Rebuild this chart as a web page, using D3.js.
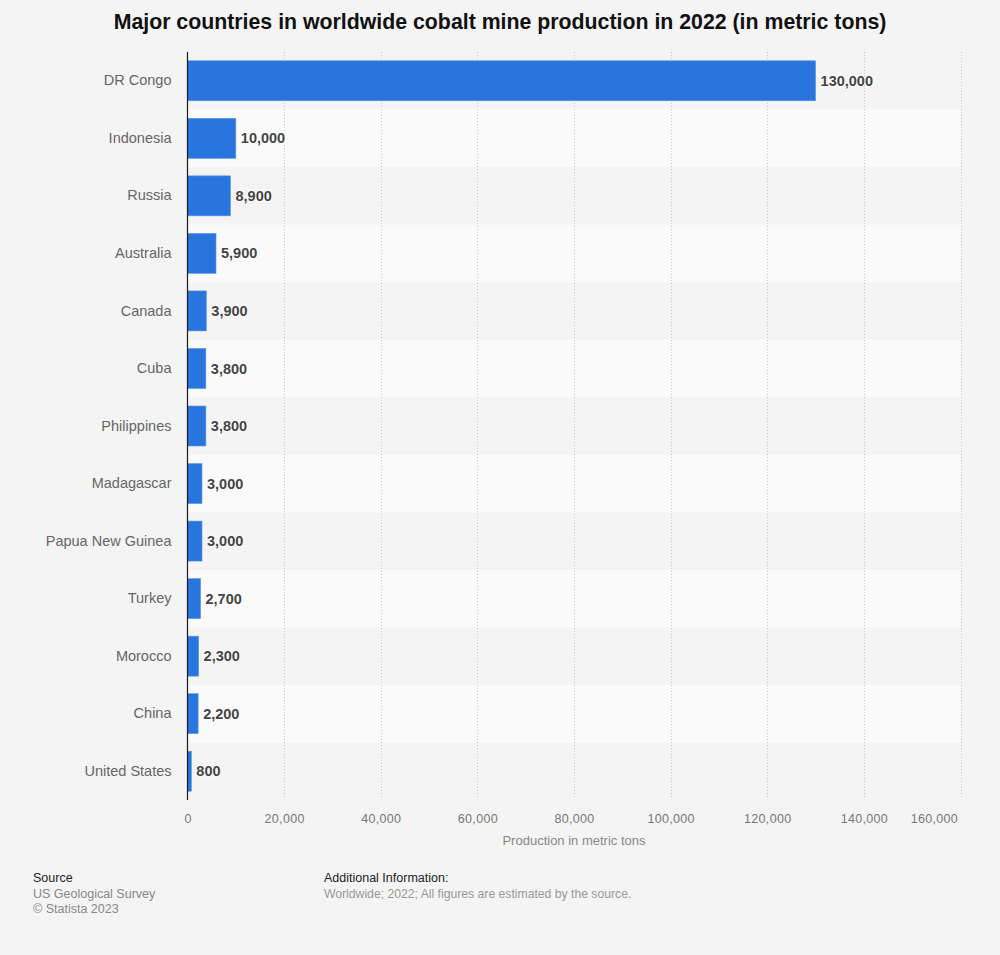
<!DOCTYPE html>
<html>
<head>
<meta charset="utf-8">
<script src="https://cdn.jsdelivr.net/npm/d3@7"></script>
<style>
  html, body { margin: 0; padding: 0; background: #f4f4f4; }
  svg { display: block; font-family: "Liberation Sans", Arial, Helvetica, sans-serif; }
</style>
</head>
<body>
<svg id="chart" width="1000" height="955"></svg>
<script>
const countries = ["DR Congo", "Indonesia", "Russia", "Australia", "Canada", "Cuba", "Philippines", "Madagascar", "Papua New Guinea", "Turkey", "Morocco", "China", "United States"];
const production = [130000, 10000, 8900, 5900, 3900, 3800, 3800, 3000, 3000, 2700, 2300, 2200, 800];
const xTicks = [0, 20000, 40000, 60000, 80000, 100000, 120000, 140000, 160000];

const title = "Major countries in worldwide cobalt mine production in 2022 (in metric tons)";
const xAxisTitle = "Production in metric tons";

const svg = d3.select("#chart");
const W = 1000, H = 955;
const m = { left: 187.5, right: 960.5, top: 52, bottom: 800 };

svg.append("rect").attr("width", W).attr("height", H).attr("fill", "#f4f4f4");

const x = d3.scaleLinear().domain([0, 160000]).range([m.left, m.right]);
const y = d3.scaleBand().domain(countries).range([m.top, m.bottom]).padding(0);
const barH = y.bandwidth() * 0.695;
const fmt = d3.format(",");

// alternating row bands
svg.append("g").selectAll("rect").data(countries.filter((d, i) => i % 2 === 1))
  .join("rect")
  .attr("x", m.left).attr("width", m.right - m.left)
  .attr("y", d => y(d)).attr("height", y.bandwidth())
  .attr("fill", "#fafafa");

// grid lines
svg.append("g").selectAll("line").data(xTicks.filter(t => t > 0))
  .join("line")
  .attr("x1", d => Math.round(x(d)) + 0.5).attr("x2", d => Math.round(x(d)) + 0.5)
  .attr("y1", m.top).attr("y2", m.bottom - 3)
  .attr("stroke", "#c9c9c9").attr("stroke-width", 1).attr("stroke-dasharray", "1,2");

// bars
svg.append("g").selectAll("rect").data(countries)
  .join("rect")
  .attr("x", x(0))
  .attr("y", d => y(d) + (y.bandwidth() - barH) / 2)
  .attr("width", (d, i) => x(production[i]) - x(0))
  .attr("height", barH)
  .attr("fill", "#2876dd")
  .attr("stroke", "#5a96e6").attr("stroke-width", 0.6);

// value labels
svg.append("g").selectAll("text").data(countries)
  .join("text")
  .attr("x", (d, i) => x(production[i]) + 5)
  .attr("y", d => y(d) + y.bandwidth() / 2)
  .attr("dy", "0.35em")
  .attr("font-size", "14.5px").attr("font-weight", "bold")
  .attr("fill", "#444444")
  .attr("stroke", "#ffffff").attr("stroke-width", 2).attr("stroke-opacity", 0.7)
  .attr("paint-order", "stroke")
  .text((d, i) => fmt(production[i]));

// y axis labels
const yAxis = d3.axisLeft(y).tickSize(0).tickPadding(16);
const yg = svg.append("g").attr("transform", `translate(${m.left},0)`).call(yAxis);
yg.select(".domain").remove();
yg.selectAll("text").attr("font-size", "14.5px").attr("fill", "#666666")
  .attr("font-family", "'Liberation Sans', Arial, sans-serif");

// axis line at zero
svg.append("line")
  .attr("x1", x(0)).attr("x2", x(0))
  .attr("y1", m.top).attr("y2", m.bottom)
  .attr("stroke", "#1a1a1a").attr("stroke-width", 1.2);

// x axis labels
const xAxis = d3.axisBottom(x).tickValues(xTicks).tickSize(0).tickPadding(14).tickFormat(fmt);
const xg = svg.append("g").attr("transform", `translate(0,${m.bottom})`).call(xAxis);
xg.select(".domain").remove();
xg.selectAll("text").attr("font-size", "12.5px").attr("fill", "#777777")
  .attr("font-family", "'Liberation Sans', Arial, sans-serif")
  .attr("letter-spacing", "0.3px");
// keep last label inside the plot
xg.selectAll(".tick").filter(d => d === 160000).select("text")
  .attr("text-anchor", "end").attr("x", -3);

// x axis title
svg.append("text")
  .attr("x", (m.left + m.right) / 2).attr("y", 845)
  .attr("text-anchor", "middle")
  .attr("font-size", "13px").attr("fill", "#888888")
  .text(xAxisTitle);

// title
svg.append("text")
  .attr("x", 500).attr("y", 29)
  .attr("text-anchor", "middle")
  .attr("font-size", "21.3px").attr("font-weight", "bold").attr("fill", "#111111")
  .text(title);

// footer
const foot = svg.append("g").attr("font-size", "12.5px");
foot.append("text").attr("x", 33).attr("y", 882).attr("fill", "#222").text("Source");
foot.append("text").attr("x", 33).attr("y", 897.5).attr("fill", "#888").text("US Geological Survey");
foot.append("text").attr("x", 33).attr("y", 913).attr("fill", "#888").text("© Statista 2023");
foot.append("text").attr("x", 324).attr("y", 882).attr("fill", "#222").text("Additional Information:");
foot.append("text").attr("x", 324).attr("y", 897.5).attr("fill", "#999").attr("font-size", "12.2px")
  .text("Worldwide; 2022; All figures are estimated by the source.");
</script>
</body>
</html>
